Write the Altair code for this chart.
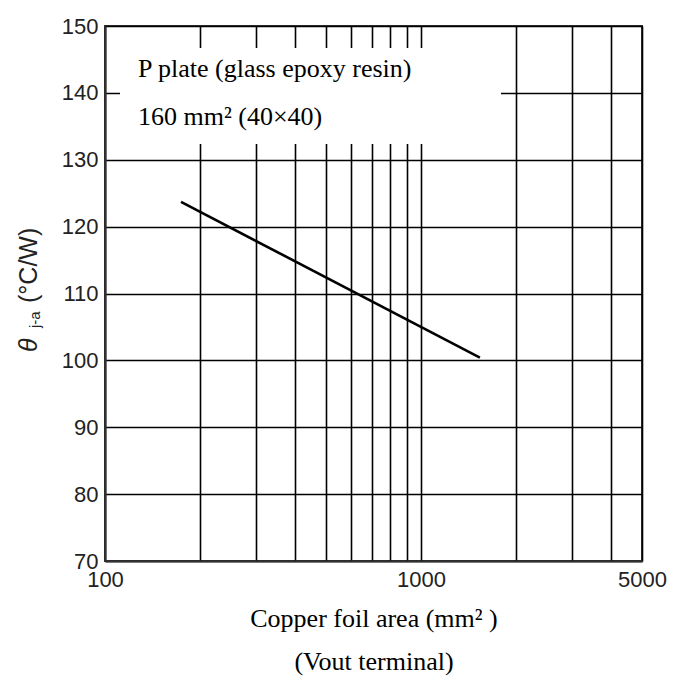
import altair as alt
import pandas as pd

# Thermal resistance vs. copper foil area (log x axis)
area_mm2 = [174, 1535]
theta_ja = [123.7, 100.4]

# Grid positions and labelled ticks
grid_x = [100, 200, 300, 400, 500, 600, 700, 800, 900, 1000, 2000, 3000, 4000, 5000]
labeled_x = [100, 1000, 5000]
grid_y = [70, 80, 90, 100, 110, 120, 130, 140, 150]

note_lines = ["P plate (glass epoxy resin)", "160 mm\u00b2 (40\u00d740)"]
x_title = ["Copper foil area (mm\u00b2 )", "(Vout terminal)"]

W, H = 537, 535
SERIF = "Liberation Serif"
SANS = "Liberation Sans"

df = pd.DataFrame({"area": area_mm2, "theta": theta_ja})

x_scale = alt.Scale(type="log", domain=[100, 5000], nice=False)
y_scale = alt.Scale(domain=[70, 150], nice=False, zero=False)

label_test = " || ".join(f"datum.value == {v}" for v in labeled_x)

x_axis = alt.Axis(
    values=grid_x,
    labelExpr=f"({label_test}) ? format(datum.value, 'd') : ''",
    labelOverlap=False,
    labelFlush=False,
    labelPadding=8,
    title=x_title,
    titleFont=SERIF,
    titleFontSize=26,
    titleFontWeight="normal",
    titleColor="black",
    titleBaseline="alphabetic",
    titleY=65,
    titleLineHeight=43,
)
y_axis = alt.Axis(values=grid_y, labelPadding=7, title=None,
                  labelOverlap=False, labelFlush=False)

curve = alt.Chart(df).mark_line(color="black", strokeWidth=2.6).encode(
    x=alt.X("area:Q", scale=x_scale, axis=x_axis),
    y=alt.Y("theta:Q", scale=y_scale, axis=y_axis),
)

# White box behind the board note
note_box = alt.Chart(pd.DataFrame({"k": [0]})).mark_rect(color="white").encode(
    x=alt.value(15), x2=alt.value(396), y=alt.value(22), y2=alt.value(118)
)


def note(text, baseline_y):
    return alt.Chart(pd.DataFrame({"t": [text]})).mark_text(
        font=SERIF, fontSize=26, align="left", baseline="alphabetic", color="black"
    ).encode(text="t:N", x=alt.value(33), y=alt.value(baseline_y))


note_top = note(note_lines[0], 51)
note_bottom = note(note_lines[1], 99)

# Rotated y-axis title: θ, subscript j-a, unit
ytitle_main = alt.Chart(pd.DataFrame({"t": ["\u03b8"]})).mark_text(
    font=SANS, fontSize=25, fontStyle="italic", angle=270, align="left",
    baseline="alphabetic", color="#222"
).encode(text="t:N", x=alt.value(-68), y=alt.value(326))

ytitle_sub = alt.Chart(pd.DataFrame({"t": ["j-a"]})).mark_text(
    font=SANS, fontSize=15, angle=270, align="left",
    baseline="alphabetic", color="#222"
).encode(text="t:N", x=alt.value(-65), y=alt.value(302))

ytitle_unit = alt.Chart(pd.DataFrame({"t": ["(\u00b0C/W)"]})).mark_text(
    font=SANS, fontSize=25, angle=270, align="left",
    baseline="alphabetic", color="#222"
).encode(text="t:N", x=alt.value(-68), y=alt.value(277))

chart = (
    alt.layer(curve, note_box, note_top, note_bottom,
              ytitle_main, ytitle_sub, ytitle_unit)
    .properties(
        width=W,
        height=H,
        autosize=alt.AutoSizeParams(type="none"),
        padding={"left": 105, "top": 26, "right": 31, "bottom": 119},
        background="white",
    )
    .configure_view(stroke="#333", strokeWidth=2)
    .configure_axis(
        grid=True,
        gridColor="black",
        gridWidth=1.6,
        gridOpacity=1,
        domainColor="#333",
        domainWidth=2,
        ticks=False,
        labelFont=SANS,
        labelFontSize=22,
        labelColor="#222",
    )
)

chart.save("out.html", embed_options={"renderer": "svg", "actions": False})
